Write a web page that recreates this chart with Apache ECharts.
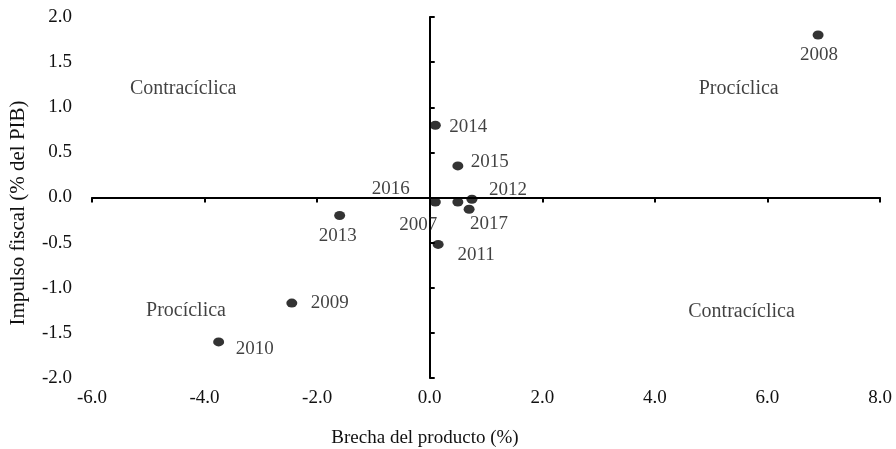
<!DOCTYPE html>
<html>
<head>
<meta charset="utf-8">
<script src="https://cdn.jsdelivr.net/npm/echarts@6/dist/echarts.min.js"></script>
<style>html,body{margin:0;padding:0;background:#fff}#c{width:896px;height:449px}</style>
</head>
<body>
<div id="c"></div>
<script>
// Data
var years   = ['2007','2008','2009','2010','2011','2012','2013','2014','2015','2016','2017'];
var gap     = [0.10, 6.90, -2.45, -3.75, 0.15, 0.75, -1.60, 0.10, 0.50, 0.50, 0.70];
var impulse = [-0.05, 1.80, -1.17, -1.60, -0.52, -0.02, -0.20, 0.80, 0.35, -0.05, -0.13];
var xTicks  = [-6, -4, -2, 0, 2, 4, 6, 8];
var yTicks  = [-2, -1.5, -1, -0.5, 0, 0.5, 1, 1.5, 2];
var quadrantText = ['Contracíclica', 'Procíclica', 'Procíclica', 'Contracíclica'];
var quadrantX    = [-4.38, 5.49, -4.33, 5.54];
var quadrantY    = [1.21, 1.20, -1.26, -1.27];

// label offsets (styling) per year
var labelOffset = {
  '2007': [-17, 23], '2008': [1, 20], '2009': [38, 0], '2010': [36, 7],
  '2011': [38, 11], '2012': [36, -9], '2013': [-2, 20], '2014': [33, 2],
  '2015': [32, -4], '2016': [-67, -13], '2017': [20, 15]
};

var FONT = 'Liberation Serif';
var TXT = '#111';
var pts = years.map(function (y, i) {
  return {
    value: [gap[i], impulse[i]],
    name: y,
    label: { show: true, position: 'inside', offset: labelOffset[y], formatter: y,
      color: TXT, fontFamily: FONT, fontSize: 19 }
  };
});
var quads = quadrantText.map(function (t, i) {
  return { value: [quadrantX[i], quadrantY[i]], name: t };
});

var chart = echarts.init(document.getElementById('c'));
var lineStyle = { color: '#000', width: 2 };
chart.setOption({
  animation: false,
  backgroundColor: '#fff',
  grid: { left: 92, right: 16, top: 17, bottom: 71, containLabel: false },
  xAxis: [
    { type: 'value', min: xTicks[0], max: xTicks[xTicks.length - 1], interval: 2, position: 'bottom',
      axisLine: { show: true, onZero: true, lineStyle: lineStyle },
      axisTick: { show: true, length: 5, lineStyle: lineStyle },
      axisLabel: { show: false }, splitLine: { show: false } },
    { type: 'value', min: xTicks[0], max: xTicks[xTicks.length - 1], interval: 2, position: 'bottom',
      axisLine: { show: false, onZero: false }, axisTick: { show: false },
      axisLabel: { show: true, margin: 11, color: TXT, fontFamily: FONT, fontSize: 19,
        formatter: function (v) { return v.toFixed(1); } },
      splitLine: { show: false } }
  ],
  yAxis: [
    { type: 'value', min: yTicks[0], max: yTicks[yTicks.length - 1], interval: 0.5, position: 'left',
      axisLine: { show: true, onZero: true, lineStyle: lineStyle },
      axisTick: { show: true, inside: true, length: 5, lineStyle: lineStyle },
      axisLabel: { show: false }, splitLine: { show: false } },
    { type: 'value', min: yTicks[0], max: yTicks[yTicks.length - 1], interval: 0.5, position: 'left',
      axisLine: { show: false, onZero: false }, axisTick: { show: false },
      axisLabel: { show: true, margin: 20, color: TXT, fontFamily: FONT, fontSize: 19,
        formatter: function (v) { return v.toFixed(1); } },
      splitLine: { show: false } }
  ],
  graphic: [
    { type: 'text', x: 18, y: 213, rotation: Math.PI / 2,
      style: { text: 'Impulso fiscal (% del PIB)', fill: TXT, font: '21px "Liberation Serif"',
        textAlign: 'center', textVerticalAlign: 'middle' } },
    { type: 'text', x: 425, y: 438,
      style: { text: 'Brecha del producto (%)', fill: TXT, font: '19px "Liberation Serif"',
        textAlign: 'center', textVerticalAlign: 'middle' } }
  ],
  series: [
    { type: 'scatter', xAxisIndex: 0, yAxisIndex: 0, symbol: 'circle', symbolSize: [11, 9],
      itemStyle: { color: '#000' }, data: pts, z: 5 },
    { type: 'scatter', xAxisIndex: 0, yAxisIndex: 0, symbol: 'circle', symbolSize: 1,
      itemStyle: { color: 'rgba(0,0,0,0)' },
      label: { show: true, position: 'inside', formatter: '{b}', color: TXT,
        fontFamily: FONT, fontSize: 20 },
      data: quads, silent: true }
  ]
});
</script>
</body>
</html>
